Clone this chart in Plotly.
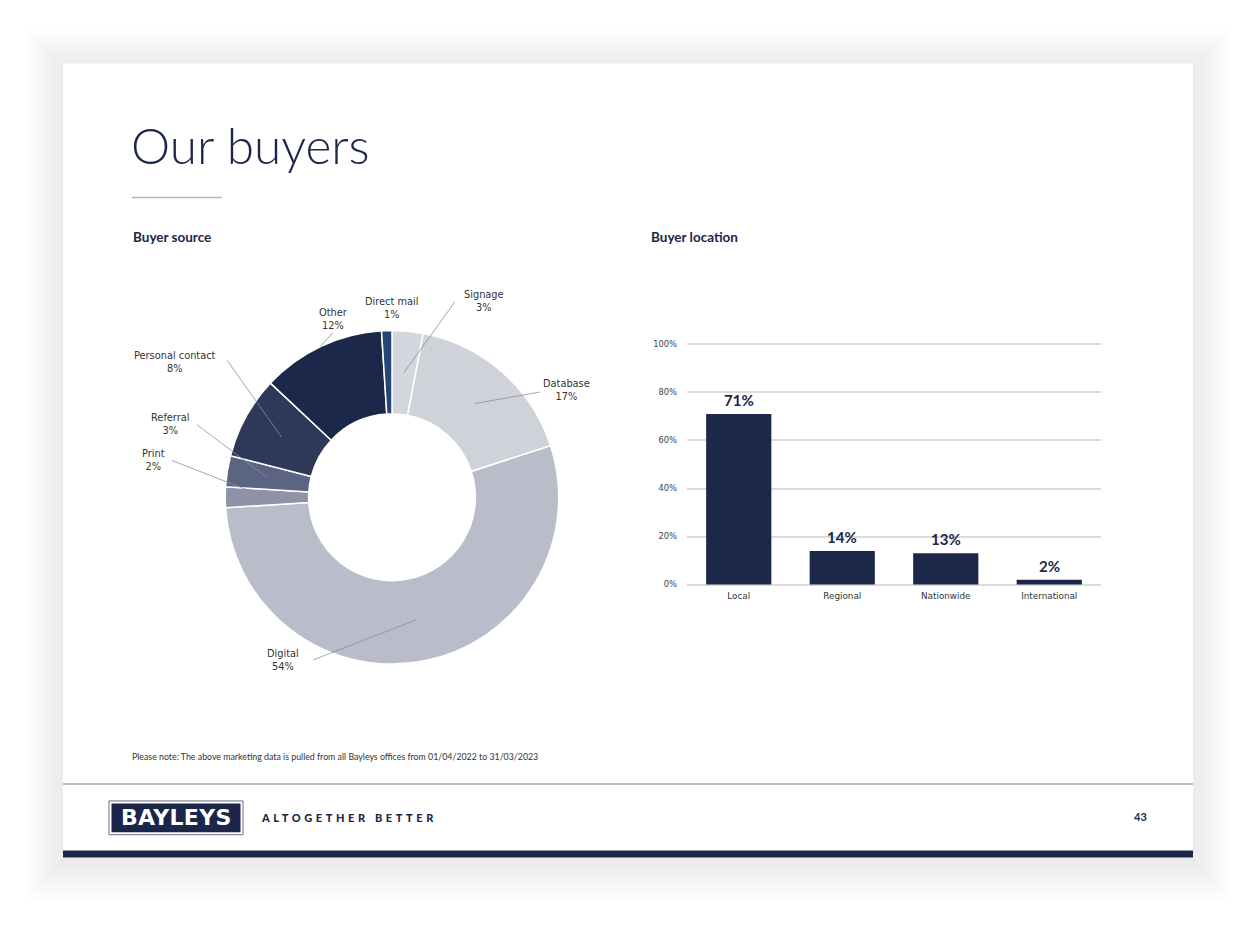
import math
import plotly.graph_objects as go

# ---------------- data ----------------
source_labels = ["Signage", "Database", "Digital", "Print", "Referral",
                 "Personal contact", "Other", "Direct mail"]
source_values = [3, 17, 54, 2, 3, 8, 12, 1]
source_colors = ["#d4d6dd", "#d0d2d9", "#b9bcc9", "#8e93a6", "#5b6581",
                 "#2e3959", "#1b2849", "#254672"]

location_cats = ["Local", "Regional", "Nationwide", "International"]
location_values = [71, 14, 13, 2]
y_ticks = [0, 20, 40, 60, 80, 100]
y_tick_text = ["0%", "20%", "40%", "60%", "80%", "100%"]

# ---------------- layout helpers ----------------
W, H = 1256, 926
NAVY = "#1b2649"
FONT = "Lato"
SMALL = "DejaVu Sans"


def px(x):
    return x / W


def py(y):
    return 1 - y / H


# donut geometry (pixels)
CX, CY, R = 392, 497, 168
HOLE = 0.5
# label centres (pixels), leader-line label ends, anchor radius factor (None = no line)
label_pos = [(484, 299), (566, 389), (283, 661), (153, 459), (170, 423),
             (175, 361), (333, 317), (391, 306)]
line_end = [(455, 300), (540, 391), (313, 661), (172, 460), (197, 424),
            (227, 359), (333, 331), None]
anchor_r = [0.75, 0.75, 0.75, 0.75, 0.75, 0.75, 1.0, None]

# bar chart plot area (pixels); y range padded slightly so edge gridlines draw
BX0, BX1, BY0, BY100 = 687, 1101, 585, 343
PAD = 0.6
ppu = (BY0 - BY100) / 100.0

fig = go.Figure()

fig.add_trace(go.Pie(
    labels=source_labels, values=source_values, sort=False,
    direction="clockwise", rotation=0, hole=HOLE,
    marker=dict(colors=source_colors, line=dict(color="white", width=1.5)),
    textinfo="none", hoverinfo="skip", showlegend=False,
    domain=dict(x=[px(CX - R), px(CX + R)], y=[py(CY + R), py(CY - R)]),
))

fig.add_trace(go.Bar(
    x=location_cats, y=location_values,
    marker=dict(color="#1b2849", line=dict(width=0)),
    hoverinfo="skip", showlegend=False,
))

shapes = []
# soft page shadow
for i in range(20):
    e = 1 + i * 2
    shapes.append(dict(type="rect", xref="paper", yref="paper", layer="below",
                       x0=px(63 - e), x1=px(1193 + e), y0=py(860 + e + 5), y1=py(60 - e + 3),
                       fillcolor="rgba(0,0,0,0.0045)", line=dict(width=0)))
# white card
shapes.append(dict(type="rect", xref="paper", yref="paper", layer="below",
                   x0=px(63), x1=px(1193), y0=py(860), y1=py(60),
                   fillcolor="white", line=dict(width=0)))
# title divider
shapes.append(dict(type="line", xref="paper", yref="paper", layer="below",
                   x0=px(132), x1=px(222), y0=py(195), y1=py(195),
                   line=dict(color="#b3b7c0", width=1.5)))
# footer separator
shapes.append(dict(type="line", xref="paper", yref="paper", layer="below",
                   x0=px(63), x1=px(1193), y0=py(786), y1=py(786),
                   line=dict(color="#a4a8b4", width=1.5)))
# bottom navy bar
shapes.append(dict(type="rect", xref="paper", yref="paper", layer="below",
                   x0=px(63), x1=px(1193), y0=py(860), y1=py(853),
                   fillcolor=NAVY, line=dict(width=0)))
# logo
shapes.append(dict(type="rect", xref="paper", yref="paper", layer="below",
                   x0=px(109), x1=px(243), y0=py(837), y1=py(803),
                   fillcolor="white", line=dict(color="#6a7088", width=1)))
shapes.append(dict(type="rect", xref="paper", yref="paper", layer="below",
                   x0=px(111.5), x1=px(240.5), y0=py(834.5), y1=py(805.5),
                   fillcolor=NAVY, line=dict(width=0)))

# leader lines from slice anchors (computed from data) to labels
total = sum(source_values)
cum = 0
for i, v in enumerate(source_values):
    frac = (cum + v / 2) / total
    cum += v
    if anchor_r[i] is None or line_end[i] is None:
        continue
    th = 2 * math.pi * frac
    r = anchor_r[i] * R
    ax_, ay_ = CX + r * math.sin(th), CY - r * math.cos(th)
    ex, ey = line_end[i]
    shapes.append(dict(type="line", xref="paper", yref="paper", layer="above",
                       x0=px(ax_), y0=py(ay_), x1=px(ex), y1=py(ey),
                       line=dict(color="#8a8f9c", width=0.8)))

annotations = []


def note(x, y, text, size, color="#333333", xanchor="left", yanchor="middle",
         weight=None, align="left", family=FONT):
    f = dict(family=family, size=size, color=color)
    if weight is not None:
        f["weight"] = weight
    annotations.append(dict(xref="paper", yref="paper", x=px(x), y=py(y),
                            text=text, showarrow=False, xanchor=xanchor,
                            yanchor=yanchor, font=f, align=align))


note(129, 142, "Our buyers", 49.5, color=NAVY, weight=300)
note(131, 235, "<b>Buyer source</b>", 13.5, color=NAVY)
note(649, 235, "<b>Buyer location</b>", 13.5, color=NAVY)
note(130, 758, "Please note: The above marketing data is pulled from all Bayleys offices "
     "from 01/04/2022 to 31/03/2023", 8.8, color="#333333")
note(176, 820, '<span style="letter-spacing:0.3px">BAYLEYS</span>', 22,
     color="white", xanchor="center", weight="bold", family="DejaVu Sans")
note(259, 820, '<span style="letter-spacing:3.6px">ALTOGETHER BETTER</span>', 11,
     color=NAVY, weight=900)
note(1140, 819, "<b>43</b>", 11, color=NAVY, xanchor="center")

# donut labels
for i, lab in enumerate(source_labels):
    x, y = label_pos[i]
    note(x, y, f"{lab}<br>{source_values[i]}%", 9.8, color="#333333",
         xanchor="center", align="center", family=SMALL)

# bar value labels
for c, v in zip(location_cats, location_values):
    annotations.append(dict(xref="x", yref="y", x=c, y=v, yanchor="bottom",
                            yshift=3, showarrow=False, text=f"<b>{v}%</b>",
                            font=dict(family=FONT, size=15, color=NAVY)))

fig.update_layout(
    width=W, height=H, margin=dict(l=0, r=0, t=0, b=0),
    paper_bgcolor="white", plot_bgcolor="rgba(0,0,0,0)",
    shapes=shapes, annotations=annotations, bargap=0.37,
    xaxis=dict(domain=[px(BX0), px(BX1)], showgrid=False, showline=False,
               zeroline=False, ticks="", fixedrange=True, ticklabelstandoff=3,
               tickfont=dict(family=SMALL, size=8.8, color="#333333")),
    yaxis=dict(domain=[py(BY0 + PAD * ppu), py(BY100 - PAD * ppu)],
               range=[-PAD, 100 + PAD], tickmode="array", tickvals=y_ticks,
               ticktext=y_tick_text, showgrid=True, gridcolor="#dcdcdc",
               gridwidth=1.5, zeroline=False, showline=False, ticks="",
               fixedrange=True, ticklabelstandoff=9,
               tickfont=dict(family=SMALL, size=8.3, color="#444444")),
)

fig.write_html("out.html")
